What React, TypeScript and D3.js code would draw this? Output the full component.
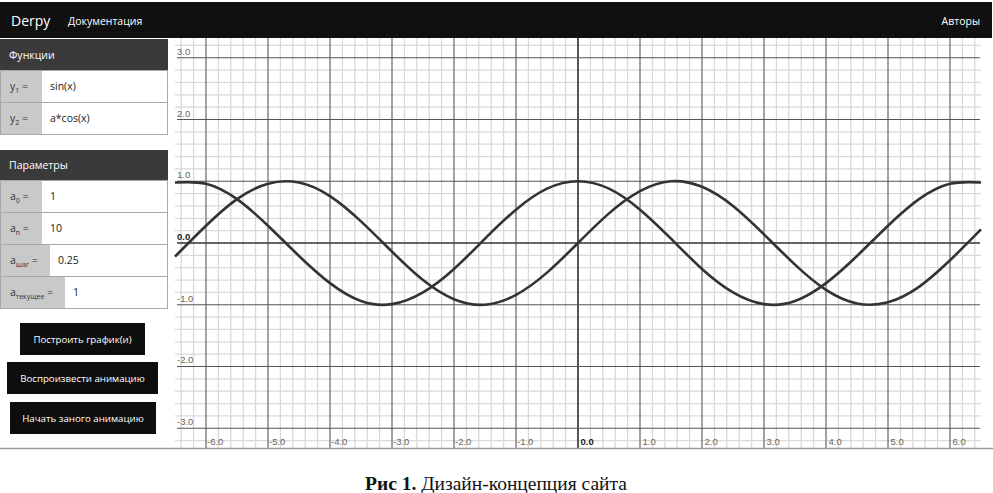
import { useEffect, useRef } from 'react';
import * as d3 from 'd3';

const xValues = [-6.5, -6, -5.5, -5, -4.5, -4, -3.5, -3, -2.5, -2, -1.5, -1, -0.5, 0, 0.5, 1, 1.5, 2, 2.5, 3, 3.5, 4, 4.5, 5, 5.5, 6, 6.5];
const sinValues = [-0.22, 0.28, 0.71, 0.96, 0.98, 0.76, 0.35, -0.14, -0.6, -0.91, -1.0, -0.84, -0.48, 0, 0.48, 0.84, 1.0, 0.91, 0.6, 0.14, -0.35, -0.76, -0.98, -0.96, -0.71, -0.28, 0.22];
const cosValues = [0.98, 0.96, 0.71, 0.28, -0.21, -0.65, -0.94, -0.99, -0.8, -0.42, 0.07, 0.54, 0.88, 1.0, 0.88, 0.54, 0.07, -0.42, -0.8, -0.99, -0.94, -0.65, -0.21, 0.28, 0.71, 0.96, 0.98];

const xTicks = [-6, -5, -4, -3, -2, -1, 0, 1, 2, 3, 4, 5, 6];
const yTicks = [-3, -2, -1, 0, 1, 2, 3];

const navLinks = ['Документация'];
const functionLabels = ['1', '2'];
const functionInputs = ['sin(x)', 'a*cos(x)'];
const paramLabels = ['0', 'n', 'шаг', 'текущее'];
const paramInputs = ['1', '10', '0.25', '1'];
const buttonLabels = ['Построить график(и)', 'Воспроизвести анимацию', 'Начать заного анимацию'];

const W = 993;
const H = 493;
const UI_FONT = '"Open Sans", "Noto Sans", sans-serif';

export default function App() {
  const svgRef = useRef<SVGSVGElement>(null);

  useEffect(() => {
    if (!svgRef.current) return;
    const root = d3.select(svgRef.current);
    root.selectAll('*').remove();

    root.append('rect').attr('width', W).attr('height', H).attr('fill', '#fff');

    // ---------- plot ----------
    const x = d3.scaleLinear().domain([-6.5, 6.5]).range([175, 981]);
    const y = d3.scaleLinear().domain([-3.32, 3.32]).range([448, 38]);
    const plot = root.append('g');

    const minorX = d3.range(-32, 33).map(i => i / 5).filter(v => Math.abs(v - Math.round(v)) > 1e-6);
    const minorY = d3.range(-16, 17).map(i => i / 5).filter(v => Math.abs(v - Math.round(v)) > 1e-6);

    plot.selectAll('line.minor-x').data(minorX).join('line')
      .attr('x1', d => x(d)).attr('x2', d => x(d))
      .attr('y1', 38).attr('y2', 448)
      .attr('stroke', '#d9d9d9').attr('stroke-width', 1.3);
    plot.selectAll('line.minor-y').data(minorY).join('line')
      .attr('x1', 175).attr('x2', 981)
      .attr('y1', d => y(d)).attr('y2', d => y(d))
      .attr('stroke', '#d9d9d9').attr('stroke-width', 1.3);

    plot.selectAll('line.major-x').data(xTicks).join('line')
      .attr('x1', d => x(d)).attr('x2', d => x(d))
      .attr('y1', 38).attr('y2', 448)
      .attr('stroke', d => d === 0 ? '#444' : '#666')
      .attr('stroke-width', d => d === 0 ? 1.8 : 1.2);
    plot.selectAll('line.major-y').data(yTicks).join('line')
      .attr('x1', 177).attr('x2', 980)
      .attr('y1', d => y(d)).attr('y2', d => y(d))
      .attr('stroke', d => d === 0 ? '#333' : '#555')
      .attr('stroke-width', d => d === 0 ? 1.5 : 1.2);

    const fmt = (d: number) => d3.format('.1f')(d).replace('\u2212', '-');
    plot.selectAll('text.ylab').data(yTicks).join('text')
      .attr('x', 177).attr('y', d => y(d) - 3)
      .attr('font-family', '"Liberation Sans", Arial, sans-serif')
      .attr('font-size', 9.5)
      .attr('font-weight', d => d === 0 ? 'bold' : 'normal')
      .attr('fill', d => d === 0 ? '#222' : '#666')
      .text(d => fmt(d));
    plot.selectAll('text.xlab').data(xTicks).join('text')
      .attr('x', d => x(d) + (d < 0 ? 1 : 2.5)).attr('y', 445)
      .attr('font-family', '"Liberation Sans", Arial, sans-serif')
      .attr('font-size', 9.5)
      .attr('font-weight', d => d === 0 ? 'bold' : 'normal')
      .attr('fill', d => d === 0 ? '#222' : '#666')
      .text(d => fmt(d));

    const line = d3.line<number>()
      .x((_, i) => x(xValues[i]))
      .y(d => y(d))
      .curve(d3.curveNatural);
    [sinValues, cosValues].forEach(vals => {
      plot.append('path')
        .attr('d', line(vals))
        .attr('fill', 'none')
        .attr('stroke', '#333')
        .attr('stroke-width', 2.6);
    });

    // ---------- header ----------
    root.append('rect').attr('x', 0).attr('y', 2).attr('width', 992).attr('height', 36).attr('fill', '#101010');
    root.append('text').attr('x', 11).attr('y', 26)
      .attr('font-family', UI_FONT).attr('font-size', 14).attr('fill', '#fff').text('Derpy');
    root.selectAll('text.nav').data(navLinks).join('text')
      .attr('x', 68).attr('y', 25)
      .attr('font-family', UI_FONT).attr('font-size', 10.5).attr('fill', '#fff')
      .text(d => d);
    root.append('text').attr('x', 980).attr('y', 25).attr('text-anchor', 'end')
      .attr('font-family', UI_FONT).attr('font-size', 10.5).attr('fill', '#fff').text('Авторы');

    // ---------- side panel ----------
    const panel = root.append('g');
    const sectionHeader = (top: number, h: number, label: string) => {
      panel.append('rect').attr('x', 0).attr('y', top).attr('width', 168).attr('height', h).attr('fill', '#3a3a3a');
      panel.append('text').attr('x', 9).attr('y', top + h / 2 + 4)
        .attr('font-family', UI_FONT).attr('font-size', 10.5).attr('fill', '#fff').text(label);
    };
    const row = (top: number, letter: string, sub: string, value: string) => {
      const g = panel.append('g');
      const cell = g.append('rect').attr('x', 0).attr('y', top).attr('height', 32).attr('fill', '#c9c9c9');
      g.append('rect').attr('x', 0.5).attr('y', top + 0.5).attr('width', 167).attr('height', 32)
        .attr('fill', 'none').attr('stroke', '#a8a8a8');
      const t = g.append('text').attr('x', 10).attr('y', top + 20)
        .attr('font-family', UI_FONT).attr('font-size', 10.5).attr('fill', '#333');
      t.append('tspan').text(letter);
      t.append('tspan').attr('font-size', 7).attr('dy', 2.5).text(sub);
      t.append('tspan').attr('dy', -2.5).text(' =');
      const end = 10 + (t.node() as SVGTextElement).getComputedTextLength();
      const cw = Math.max(42, Math.round(end + 12));
      cell.attr('width', cw);
      g.append('rect').attr('x', cw).attr('y', top + 1).attr('width', 167 - cw).attr('height', 31).attr('fill', '#fff');
      g.append('text').attr('x', cw + 8).attr('y', top + 20)
        .attr('font-family', UI_FONT).attr('font-size', 10.5).attr('fill', '#222').text(value);
    };

    sectionHeader(39, 31, 'Функции');
    functionLabels.forEach((s, i) => row(70 + i * 32, 'y', s, functionInputs[i]));
    sectionHeader(150, 30, 'Параметры');
    paramLabels.forEach((s, i) => row(180 + i * 32, 'a', s, paramInputs[i]));

    const btnBoxes = [[20, 323, 125], [7, 362, 151], [10, 402, 146]];
    buttonLabels.forEach((label, i) => {
      const [bx, by, bw] = btnBoxes[i];
      panel.append('rect').attr('x', bx).attr('y', by).attr('width', bw).attr('height', 32).attr('fill', '#0e0e0e');
      panel.append('text').attr('x', bx + bw / 2).attr('y', by + 20).attr('text-anchor', 'middle')
        .attr('font-family', UI_FONT).attr('font-size', 9.7).attr('fill', '#fff').text(label);
    });

    // screenshot bottom border
    root.append('line').attr('x1', 0).attr('x2', W).attr('y1', 448.5).attr('y2', 448.5)
      .attr('stroke', '#9a9a9a').attr('stroke-width', 1.5);

    // ---------- caption ----------
    const cap = root.append('text').attr('x', 496).attr('y', 490).attr('text-anchor', 'middle')
      .attr('font-family', '"Liberation Serif", "Times New Roman", serif').attr('font-size', 19.5).attr('fill', '#111');
    cap.append('tspan').attr('font-weight', 'bold').text('Рис 1.');
    cap.append('tspan').text(' Дизайн-концепция сайта');
  }, []);

  return (
    <svg
      ref={svgRef}
      width={W}
      height={H}
      style={{ position: 'absolute', left: 0, top: 0, display: 'block' }}
    />
  );
}
